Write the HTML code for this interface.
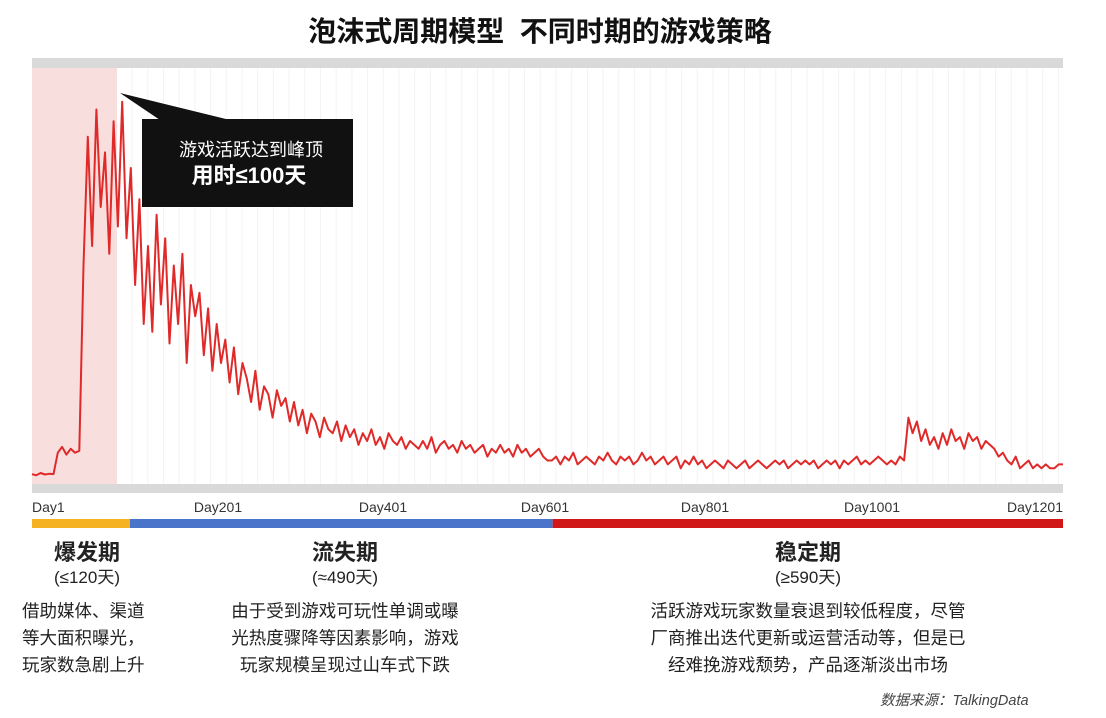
<!DOCTYPE html>
<html><head><meta charset="utf-8">
<style>
body{margin:0;width:1106px;height:718px;background:#fff;font-family:"Liberation Sans","Noto Sans CJK SC",sans-serif;overflow:hidden;position:relative}
.t{position:absolute;white-space:nowrap;color:#222}
</style></head><body>
<div class="t" style="left:0;width:1080px;text-align:center;top:10px;font-size:28px;font-weight:bold;color:#111">泡沫式周期模型&nbsp; 不同时期的游戏策略</div>
<svg id="c" width="1106" height="718" style="position:absolute;left:0;top:0"></svg>
<div class="t" style="left:27px;width:120px;text-align:center;top:535px;font-size:22px;font-weight:bold">爆发期</div>
<div class="t" style="left:27px;width:120px;text-align:center;top:563px;font-size:17px">(≤120天)</div>
<div class="t" style="left:285px;width:120px;text-align:center;top:535px;font-size:22px;font-weight:bold">流失期</div>
<div class="t" style="left:285px;width:120px;text-align:center;top:563px;font-size:17px">(≈490天)</div>
<div class="t" style="left:748px;width:120px;text-align:center;top:535px;font-size:22px;font-weight:bold">稳定期</div>
<div class="t" style="left:748px;width:120px;text-align:center;top:563px;font-size:17px">(≥590天)</div>
<div class="t" style="left:22px;top:598px;font-size:17.5px;line-height:27px">借助媒体、渠道<br>等大面积曝光，<br>玩家数急剧上升</div>
<div class="t" style="left:195px;width:300px;text-align:center;top:598px;font-size:17.5px;line-height:27px">由于受到游戏可玩性单调或曝<br>光热度骤降等因素影响，游戏<br>玩家规模呈现过山车式下跌</div>
<div class="t" style="left:598px;width:420px;text-align:center;top:598px;font-size:17.5px;line-height:27px">活跃游戏玩家数量衰退到较低程度，尽管<br>厂商推出迭代更新或运营活动等，但是已<br>经难挽游戏颓势，产品逐渐淡出市场</div>
<div class="t" style="left:880px;top:689px;font-size:14.5px;font-style:italic;color:#444">数据来源：TalkingData</div>
<script>
const days=[];const values=[
1.5,1.2,1.8,1.4,1.6,1.5,
7,8.5,6.5,8,7,7.5,
55,88,60,95,70,84,58,92,65,97,62,
80,50,72,40,60,
38,68,45,62,35,55,40,58,30,50,42,48,32,44,28,40,30,36,
25,34,22,30,26,20,28,18,24,22,16,23,19,21,15,
20,14,18,12,17,15,11,16,13,12,15,10,14,11,13,9,12,10,13,9,11,8,12,10,9,11,8,10,9,8,
10,8,11,7,9,10,8,9,7,10,8,9,7,8,9,6,8,7,9,7,
8,6,9,7,8,6,7,8,6,5,
5,6,4,6,5,7,4,5,6,5,4,6,5,7,5,4,6,5,6,4,5,7,5,6,4,5,6,4,5,6,3,5,4,6,4,5,3,4,5,4,3,5,4,3,4,5,3,4,5,4,3,4,5,4,5,3,4,5,4,5,
4,5,3,4,5,4,5,3,5,4,5,6,4,5,4,5,6,5,4,
5,4,6,5,16,
12,15,10,13,9,11,8,12,9,13,10,11,8,12,10,11,8,10,9,8,
6,7,5,4,6,3,4,5,3,4,3,4,3,3,4,4];
values.forEach((v,i)=>days.push(1+5*i));
const tickLabels=["Day1","Day201","Day401","Day601","Day801","Day1001","Day1201"];
const tickPx=[32,218,383,545,705,872,1063];
const phaseNames=["爆发期","流失期","稳定期"];
const phaseEnds=[1,115,607,1201];
const phaseColors=["#f5b324","#4a74c9","#d01818"];
const X=d=>32+(d-1)*1031/1200, Y=v=>480-v*3.9;
const s=document.getElementById('c');const NS='http://www.w3.org/2000/svg';
function mk(t,a){const e=document.createElementNS(NS,t);for(const k in a)e.setAttribute(k,a[k]);s.appendChild(e);return e;}
let e=mk('rect',{x:32,y:58,width:1031,height:10,fill:'#d9d9d9'});

e=mk('rect',{x:32,y:484,width:1031,height:9,fill:'#d9d9d9'});

e=mk('rect',{x:32,y:68,width:X(100)-32,height:416,fill:'#f9dede'});

for(let gx=X(100)+15;gx<1063;gx+=15.7){e=mk('line',{x1:gx,x2:gx,y1:68,y2:484,stroke:'#f3f3f3','stroke-width':1});
}
e=mk('polyline',{points:values.map((v,i)=>X(days[i]).toFixed(1)+','+Y(v).toFixed(1)).join(' '),fill:'none',stroke:'#e02a2a','stroke-width':2,'stroke-linejoin':'round'});

tickLabels.forEach((l,i)=>{const a=i==0?'start':(i==tickLabels.length-1?'end':'middle');
const t=mk('text',{x:tickPx[i],y:512,'font-size':14,fill:'#333','text-anchor':a});t.textContent=l;
});
phaseNames.forEach((n,i)=>{const r=mk('rect',{x:X(phaseEnds[i]),y:519,width:X(phaseEnds[i+1])-X(phaseEnds[i]),height:9,fill:phaseColors[i]});
});
e=mk('polygon',{points:'120,93 160,120 230,120',fill:'#111'});

e=mk('rect',{x:142,y:119,width:211,height:88,fill:'#111'});

let t=mk('text',{x:251,y:156,'font-size':18,fill:'#fff','text-anchor':'middle'});t.textContent='游戏活跃达到峰顶';

t=mk('text',{x:249,y:183,'font-size':22,'font-weight':'bold',fill:'#fff','text-anchor':'middle'});t.textContent='用时≤100天';

</script>
</body></html>
